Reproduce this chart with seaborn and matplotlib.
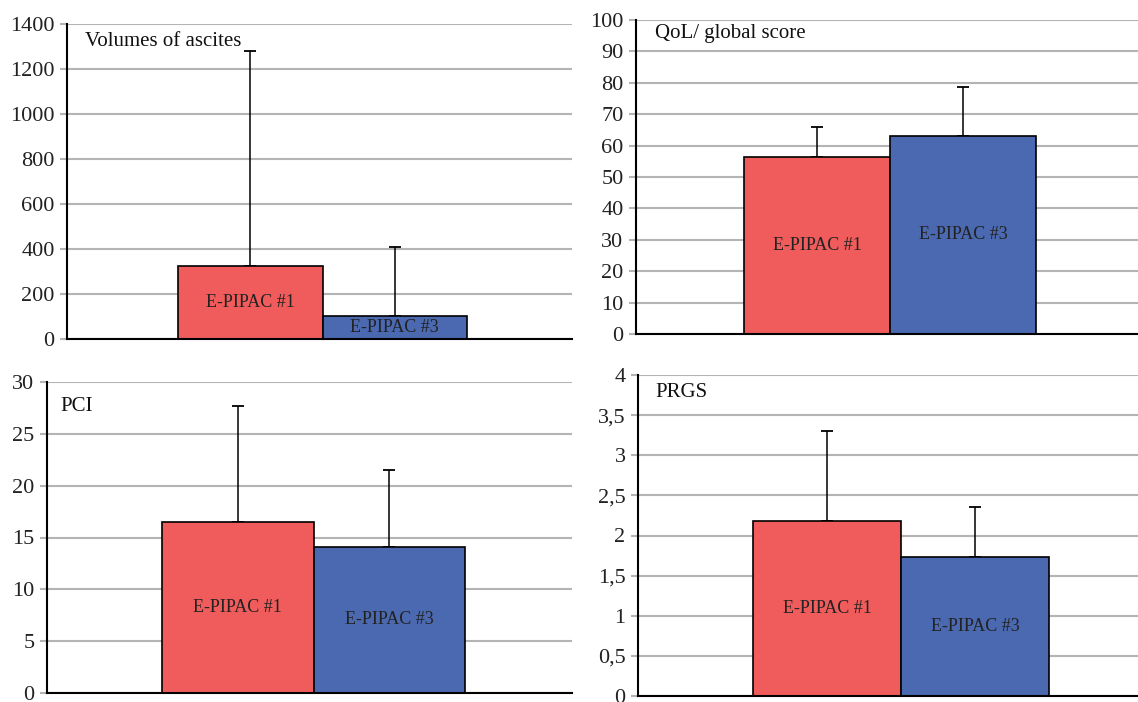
import pandas as pd
import numpy as np
import matplotlib
matplotlib.use("Agg")
import matplotlib.pyplot as plt
import seaborn as sns

# datos
groups = ["E-PIPAC #1", "E-PIPAC #3"]
titles = ["Volumes of ascites", "QoL/ global score", "PCI", "PRGS"]
means = [[324, 102], [56.5, 63.2], [16.5, 14.1], [2.18, 1.73]]
errs_up = [[956, 307], [9.3, 15.6], [11.2, 7.4], [1.12, 0.62]]
yticks = [
    [0, 200, 400, 600, 800, 1000, 1200, 1400],
    [0, 10, 20, 30, 40, 50, 60, 70, 80, 90, 100],
    [0, 5, 10, 15, 20, 25, 30],
    [0, 0.5, 1, 1.5, 2, 2.5, 3, 3.5, 4],
]
ytick_labels = [
    ["0", "200", "400", "600", "800", "1000", "1200", "1400"],
    ["0", "10", "20", "30", "40", "50", "60", "70", "80", "90", "100"],
    ["0", "5", "10", "15", "20", "25", "30"],
    ["0", "0,5", "1", "1,5", "2", "2,5", "3", "3,5", "4"],
]

sns.set_style("white")
plt.rcParams["font.family"] = ["Liberation Serif", "DejaVu Serif"]

W, H = 1138, 702
fig = plt.figure(figsize=(W / 100, H / 100), dpi=100)

# posiciones de los ejes en pixeles: left, right, top, bottom
boxes = [(67, 572, 24, 339), (636, 1138, 20, 334), (47, 572, 382, 693), (638, 1138, 375, 696)]
xlims = [(-0.708, 0.691), (-0.696, 0.679), (-0.704, 0.682), (-0.711, 0.640)]
title_pos = [(0.036, 0.946), (0.038, 0.958), (0.025, 0.92), (0.034, 0.944)]
palette = ["#EF5C5B", "#4A69B0"]

for i in range(4):
    l, r, t, b = boxes[i]
    ax = fig.add_axes([l / W, 1 - b / H, (r - l) / W, (b - t) / H])
    df = pd.DataFrame({"panel": [titles[i]] * 2, "group": groups, "value": means[i]})
    sns.barplot(data=df, x="panel", y="value", hue="group", palette=palette,
                saturation=1, edgecolor="black", linewidth=1.2, width=0.8,
                legend=False, ax=ax, zorder=2)

    for cont, e, name in zip(ax.containers, errs_up[i], groups):
        p = cont.patches[0]
        xc = p.get_x() + p.get_width() / 2
        ax.errorbar(xc, p.get_height(), yerr=[[0], [e]], fmt="none",
                    ecolor="black", elinewidth=1.1, capsize=4.5, capthick=1.3, zorder=1)
        ax.bar_label(cont, labels=[name], label_type="center", fontsize=13, color="#222222")

    ax.set_xlim(*xlims[i])
    ax.set_ylim(yticks[i][0], yticks[i][-1])
    ax.set_yticks(yticks[i])
    ax.set_yticklabels(ytick_labels[i])
    ax.set_xticks([])
    ax.set_xlabel("")
    ax.set_ylabel("")
    ax.yaxis.grid(True, color="#b4b4b4", linewidth=1.5)
    ax.set_axisbelow(True)
    for s in ["top", "right"]:
        ax.spines[s].set_visible(False)
    ax.spines["left"].set_color("black")
    ax.spines["bottom"].set_color("black")
    ax.spines["left"].set_linewidth(1.5)
    ax.spines["bottom"].set_linewidth(1.5)
    ax.tick_params(axis="y", left=True, length=5, width=1.5, color="#b4b4b4",
                   labelsize=16, pad=4, labelcolor="#222222")
    ax.text(title_pos[i][0], title_pos[i][1], titles[i], transform=ax.transAxes,
            ha="left", va="center", fontsize=15, color="#111111")

fig.savefig("out.png", dpi=100)
